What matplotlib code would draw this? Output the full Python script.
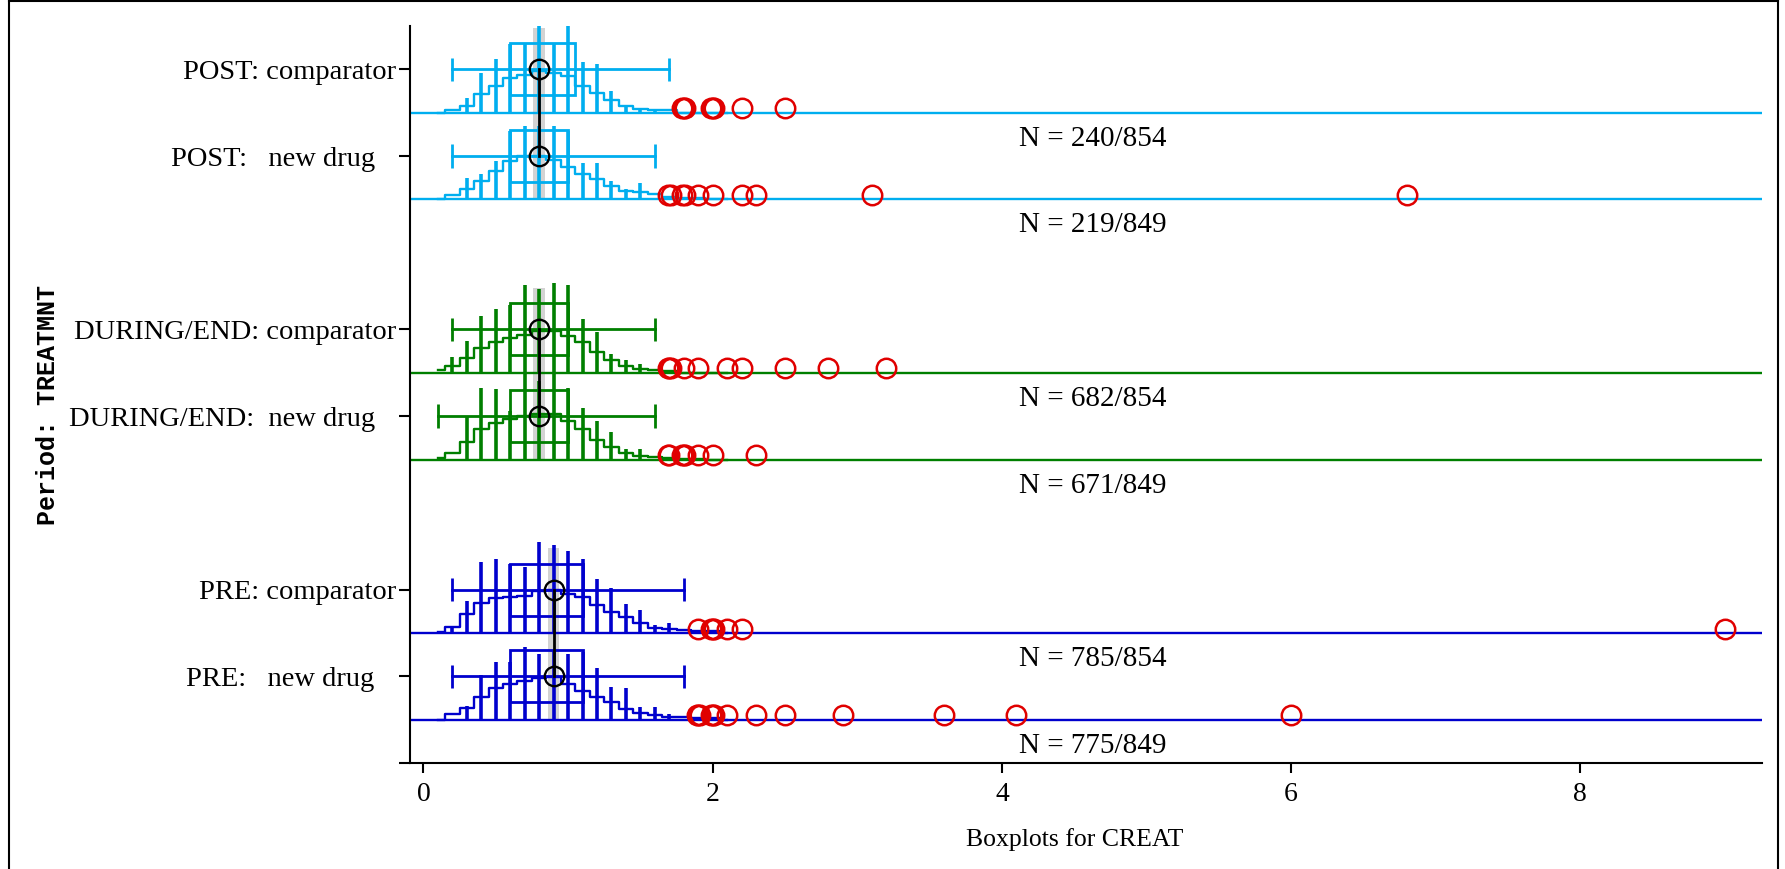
import numpy as np
import matplotlib
matplotlib.use('Agg')
import matplotlib.pyplot as plt
from matplotlib.patches import Rectangle
from matplotlib.lines import Line2D

plt.rcParams['font.family'] = ['Liberation Serif', 'DejaVu Serif']

# rows listed bottom -> top
row_labels = ['PRE:   new drug   ', 'PRE: comparator',
              'DURING/END:  new drug   ', 'DURING/END: comparator',
              'POST:   new drug   ', 'POST: comparator']
period_colors = ['#0000cd', '#007f00', '#00aeef']   # PRE, DURING/END, POST
n_text = ['N = 775/849', 'N = 785/854', 'N = 671/849',
          'N = 682/854', 'N = 219/849', 'N = 240/854']

whisk_lo = [0.2, 0.2, 0.1, 0.2, 0.2, 0.2]
q1 = [0.6, 0.6, 0.6, 0.6, 0.6, 0.6]
q3 = [1.1, 1.1, 1.0, 1.0, 1.0, 1.05]
whisk_hi = [1.8, 1.8, 1.6, 1.6, 1.6, 1.7]
means = [0.9, 0.9, 0.8, 0.8, 0.8, 0.8]
medians = [0.9, 0.8, 0.8]   # per period

# frequency spikes at each 0.1 value
spike_x = [0.2, 0.3, 0.4, 0.5, 0.6, 0.7, 0.8, 0.9, 1.0, 1.1, 1.2, 1.3, 1.4, 1.5, 1.6, 1.7]
spk_pre_new = [0.0, 0.16, 0.52, 0.66, 0.66, 0.84, 0.76, 0.80, 0.76, 0.78, 0.60, 0.38, 0.36, 0.15, 0.15, 0.07]
spk_pre_cmp = [0.08, 0.37, 0.82, 0.85, 0.80, 0.76, 1.05, 1.01, 0.95, 0.85, 0.62, 0.52, 0.33, 0.27, 0.09, 0.11]
spk_dur_new = [0.0, 0.50, 0.82, 0.81, 0.56, 1.00, 0.90, 1.00, 0.83, 0.60, 0.44, 0.32, 0.12, 0.12, 0.0, 0.0]
spk_dur_cmp = [0.18, 0.37, 0.65, 0.74, 0.78, 1.01, 0.97, 1.04, 1.01, 0.62, 0.47, 0.22, 0.15, 0.10, 0.0, 0.0]
spk_post_new = [0.0, 0.25, 0.29, 0.44, 0.79, 0.85, 0.85, 0.85, 0.79, 0.42, 0.42, 0.21, 0.12, 0.19, 0.0, 0.0]
spk_post_cmp = [0.0, 0.17, 0.46, 0.62, 0.79, 0.79, 1.01, 0.79, 1.01, 0.58, 0.56, 0.25, 0.08, 0.06, 0.04, 0.0]

# density outline (step)
dens_x = [0.1, 0.2, 0.3, 0.4, 0.5, 0.6, 0.7, 0.8, 0.9, 1.0, 1.1,
          1.2, 1.3, 1.4, 1.5, 1.6, 1.7, 1.8, 1.9, 2.0, 2.1]
den_pre_new = [0.0, 0.07, 0.14, 0.26, 0.36, 0.41, 0.45, 0.48, 0.49, 0.41, 0.33,
               0.26, 0.20, 0.12, 0.08, 0.05, 0.03, 0.03, 0.02, 0.02, 0.0]
den_pre_cmp = [0.01, 0.07, 0.22, 0.34, 0.40, 0.41, 0.43, 0.48, 0.49, 0.45, 0.41,
               0.32, 0.24, 0.18, 0.11, 0.06, 0.04, 0.03, 0.02, 0.02, 0.0]
den_dur_new = [0.02, 0.07, 0.20, 0.35, 0.42, 0.47, 0.50, 0.53, 0.52, 0.44, 0.35,
               0.23, 0.15, 0.08, 0.04, 0.03, 0.02, 0.01, 0.01, 0.0, 0.0]
den_dur_cmp = [0.03, 0.08, 0.17, 0.29, 0.36, 0.40, 0.44, 0.48, 0.48, 0.43, 0.35,
               0.24, 0.15, 0.08, 0.04, 0.03, 0.02, 0.0, 0.0, 0.0, 0.0]
den_post_new = [0.01, 0.05, 0.12, 0.21, 0.33, 0.44, 0.50, 0.50, 0.46, 0.37, 0.29,
                0.23, 0.16, 0.10, 0.08, 0.06, 0.03, 0.02, 0.02, 0.0, 0.0]
den_post_cmp = [0.0, 0.03, 0.08, 0.21, 0.31, 0.40, 0.44, 0.48, 0.46, 0.42, 0.31,
                0.23, 0.15, 0.08, 0.04, 0.03, 0.03, 0.0, 0.0, 0.0, 0.0]

out_pre_new = [1.89, 1.9, 1.91, 1.99, 2.0, 2.01, 2.1, 2.3, 2.5, 2.9, 3.6, 4.1, 6.0]
out_pre_cmp = [1.9, 1.99, 2.0, 2.01, 2.1, 2.2, 9.0]
out_dur_new = [1.69, 1.7, 1.79, 1.8, 1.81, 1.9, 2.0, 2.3]
out_dur_cmp = [1.69, 1.7, 1.71, 1.8, 1.9, 2.1, 2.2, 2.5, 2.8, 3.2]
out_post_new = [1.69, 1.71, 1.79, 1.81, 1.9, 2.0, 2.2, 2.3, 3.1, 6.8]
out_post_cmp = [1.79, 1.8, 1.81, 1.99, 2.0, 2.01, 2.2, 2.5]

spikes = [spk_pre_new, spk_pre_cmp, spk_dur_new, spk_dur_cmp, spk_post_new, spk_post_cmp]
dens = [den_pre_new, den_pre_cmp, den_dur_new, den_dur_cmp, den_post_new, den_post_cmp]
outliers = [out_pre_new, out_pre_cmp, out_dur_new, out_dur_cmp, out_post_new, out_post_cmp]

W, H = 1785, 869
fig = plt.figure(figsize=(W / 100, H / 100), dpi=100)
ax = fig.add_axes([410 / W, 1 - 763 / H, (1762 - 410) / W, 737 / H])
ax.set_xlim(-0.093, 9.256)
ax.set_ylim(0, 8.5)

red = '#e00000'
ypos = [1 + i + i // 2 for i in range(6)]

for i in range(6):
    y = ypos[i]
    base = y - 0.5
    c = period_colors[i // 2]
    ax.axhline(base, color=c, lw=1.7, zorder=2)
    ax.step(dens_x, base + np.array(dens[i]), where='mid', color=c, lw=1.7, zorder=2)
    ax.vlines(spike_x, base, base + np.array(spikes[i]), color=c, lw=2.6, zorder=2)
    ax.add_patch(Rectangle((q1[i], y - 0.3), q3[i] - q1[i], 0.6, fill=False,
                           ec=c, lw=2.0, zorder=3))
    ax.plot([whisk_lo[i], whisk_hi[i]], [y, y], color=c, lw=2.0, zorder=3)
    ax.vlines([whisk_lo[i], whisk_hi[i]], y - 0.135, y + 0.135, color=c, lw=2.0, zorder=3)
    ax.plot(outliers[i], [base + 0.05] * len(outliers[i]), 'o', mfc='none', mec=red,
            ms=14, mew=1.8, zorder=5)
    ax.text(4.63, y - 0.8, n_text[i], ha='center', va='center', fontsize=21)

# median band and mean connector per period
for g in range(3):
    y_lo, y_up = ypos[2 * g], ypos[2 * g + 1]
    ax.add_patch(Rectangle((medians[g] - 0.04, y_lo - 0.5), 0.08, y_up + 0.48 - (y_lo - 0.5),
                           color='#d3d3d3', lw=0, zorder=1))
    ax.plot([means[2 * g], means[2 * g + 1]], [y_lo, y_up], color='k', lw=2, zorder=4)
    ax.plot([means[2 * g], means[2 * g + 1]], [y_lo, y_up], 'o', mfc='none', mec='k',
            ms=14, mew=1.7, zorder=4)

ax.set_yticks([0] + ypos)
ax.set_yticklabels([''] + row_labels, fontsize=20.5)
ax.set_xticks([0, 2, 4, 6, 8])
ax.set_xticklabels(['0', '2', '4', '6', '8'], fontsize=20)
ax.tick_params(axis='y', length=8, width=1.5, pad=2)
ax.tick_params(axis='x', length=7, width=1.5, pad=7)
ax.spines['top'].set_visible(False)
ax.spines['right'].set_visible(False)
ax.spines['left'].set_linewidth(1.5)
ax.spines['bottom'].set_linewidth(1.5)

fig.text(1075 / W, 1 - 840 / H, 'Boxplots for CREAT', ha='center', va='center', fontsize=18.5)
fig.text(48 / W, 1 - 405 / H, 'Period: TREATMNT', rotation=90, ha='center', va='center',
         fontsize=18, family='Liberation Mono', weight='bold')

# outer frame
for xs, ys in [([9 / W, 9 / W], [0, 1 - 1 / H]), ([9 / W, 1778 / W], [1 - 1 / H, 1 - 1 / H]),
               ([1778 / W, 1778 / W], [0, 1 - 1 / H])]:
    fig.add_artist(Line2D(xs, ys, color='k', lw=1.5, transform=fig.transFigure))

fig.savefig('out.png', dpi=100)
